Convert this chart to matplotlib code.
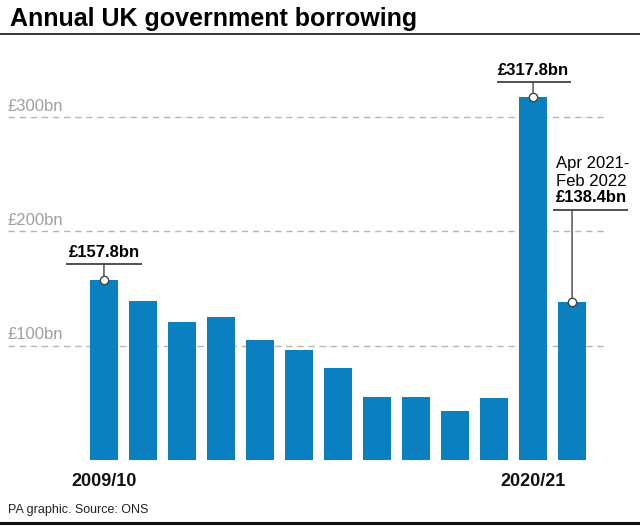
import matplotlib.pyplot as plt
from matplotlib.transforms import ScaledTranslation, blended_transform_factory

plt.rcParams['font.family'] = ['Liberation Sans', 'DejaVu Sans']

# 연도별 차입 규모 (£bn)
years = ['2009/10', '2010/11', '2011/12', '2012/13', '2013/14', '2014/15', '2015/16',
         '2016/17', '2017/18', '2018/19', '2019/20', '2020/21', 'Apr 2021-Feb 2022']
borrowing = [157.8, 139.5, 121.0, 124.8, 104.7, 96.0, 80.2, 55.4, 54.8, 43.1, 54.6, 317.8, 138.4]
shown_years = ['2009/10', '2020/21']
grid_values = [100, 200, 300]
grid_labels = ['£100bn', '£200bn', '£300bn']

bar_color = '#0a80c0'
line_color = '#444444'

fig = plt.figure(figsize=(6.4, 5.3), dpi=100)
ax = fig.add_axes([8 / 640, 70 / 530, 598 / 640, 388.6 / 530])

x = list(range(len(years)))
ax.bar(x, borrowing, width=0.72, color=bar_color, zorder=2)
ax.set_xlim(-2.46, 12.87)
ax.set_ylim(0, 340)

# 점선 격자
for v, lab in zip(grid_values, grid_labels):
    ax.axhline(v, color='#b5b5b5', lw=1, linestyle=(0, (4.5, 3.5)), zorder=1)
    tr = blended_transform_factory(ax.transAxes, ax.transData)
    ax.text(0.0, v, lab, transform=tr + ScaledTranslation(0, 2.5 / 72, fig.dpi_scale_trans),
            ha='left', va='bottom', fontsize=12, color='#a0a0a0')

for s in ax.spines.values():
    s.set_visible(False)
ax.set_yticks([])
ticks = [years.index(y) for y in shown_years]
ax.set_xticks(ticks)
ax.set_xticklabels(shown_years, fontsize=13, fontweight='bold', color='#111111')
ax.tick_params(axis='x', length=0, pad=9)


def offset(dy_px):
    return ax.transData + ScaledTranslation(0, dy_px / 100, fig.dpi_scale_trans)


def callout(i, rise, left, right):
    v = borrowing[i]
    ax.annotate('', xy=(i, v), xytext=(0, rise * 0.72), textcoords='offset points',
                arrowprops=dict(arrowstyle='-', color=line_color, lw=1, shrinkA=0, shrinkB=0),
                annotation_clip=False)
    ax.plot([i - left, i + right], [v, v], color='#222222', lw=1.1,
            transform=offset(rise), clip_on=False, solid_capstyle='butt')
    ax.plot([i], [v], marker='o', ms=6, mfc='white', mec=line_color, mew=1,
            zorder=5, clip_on=False)


# 최초 / 최대 / 최근 값 표시
i0 = 0
callout(i0, 16, 0.98, 0.98)
ax.text(i0, borrowing[i0], f'£{borrowing[i0]}bn', transform=offset(23), ha='center',
        va='baseline', fontsize=12, fontweight='bold')

i1 = 11
callout(i1, 15, 0.93, 0.97)
ax.text(i1, borrowing[i1], f'£{borrowing[i1]}bn', transform=offset(22), ha='center',
        va='baseline', fontsize=12, fontweight='bold')

i2 = 12
callout(i2, 92, 0.49, 1.44)
ax.text(i2 - 0.41, borrowing[i2], 'Apr 2021-', transform=offset(134), ha='left',
        va='baseline', fontsize=12)
ax.text(i2 - 0.41, borrowing[i2], 'Feb 2022', transform=offset(116), ha='left',
        va='baseline', fontsize=12)
ax.text(i2 - 0.41, borrowing[i2], f'£{borrowing[i2]}bn', transform=offset(100), ha='left',
        va='baseline', fontsize=12, fontweight='bold')

# 제목, 출처, 구분선
fig.text(10 / 640, 1 - 26 / 530, 'Annual UK government borrowing', fontsize=18,
         fontweight='bold', ha='left', va='baseline')
fig.add_artist(plt.Line2D([0, 1], [1 - 34 / 530, 1 - 34 / 530], color='#111111', lw=1.2))
fig.text(8 / 640, 1 - 513 / 530, 'PA graphic. Source: ONS', fontsize=9, color='#222222',
         ha='left', va='baseline')
fig.add_artist(plt.Line2D([0, 1], [1 - 523 / 530, 1 - 523 / 530], color='#111111', lw=2.2))

fig.savefig('out.png', dpi=100)
